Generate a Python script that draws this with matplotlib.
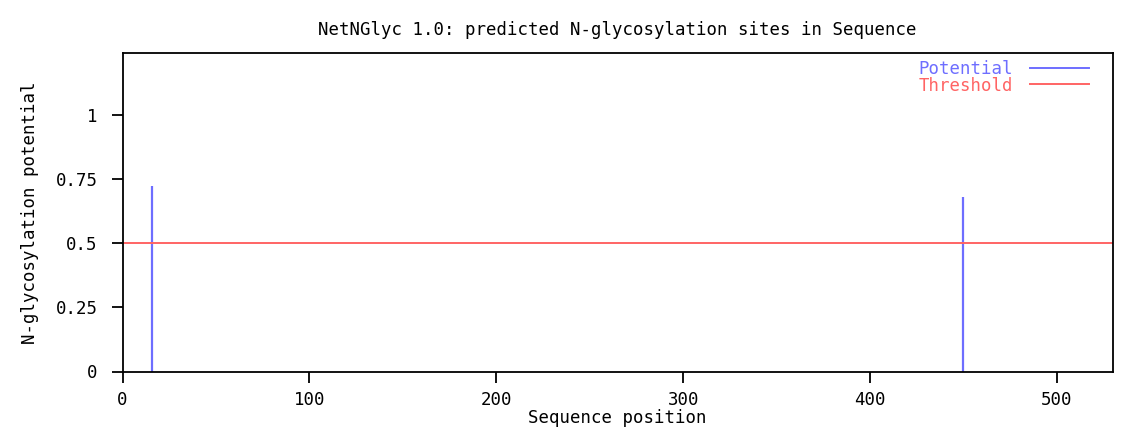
import matplotlib
matplotlib.use("Agg")
import matplotlib.pyplot as plt
from matplotlib.lines import Line2D

# Data
site_positions = [16, 450]
site_potentials = [0.723, 0.681]
threshold = 0.5
x_ticks = [0, 100, 200, 300, 400, 500]
y_ticks = [0, 0.25, 0.5, 0.75, 1]
y_tick_labels = ["0", "0.25", "0.5", "0.75", "1"]

blue = "#6e6eff"
red = "#ff6464"
font = "DejaVu Sans Mono"
fs = 12.5

fig = plt.figure(figsize=(11.4, 4.28), dpi=100)
ax = fig.add_axes([122.5 / 1140, 1 - 371.5 / 428, (1113 - 122.5) / 1140, (371.5 - 53) / 428])

ax.vlines(site_positions, 0, site_potentials, color=blue, lw=1.6)
ax.axhline(threshold, color=red, lw=1.4)

ax.set_xlim(0, 530)
ax.set_ylim(0, 1.242)
ax.set_xticks(x_ticks)
ax.set_xticklabels([str(t) for t in x_ticks], fontfamily=font, fontsize=fs)
ax.set_yticks(y_ticks)
ax.set_yticklabels(y_tick_labels, fontfamily=font, fontsize=fs)
ax.tick_params(direction="out", length=8, width=1.3)
ax.tick_params(axis="x", pad=6)
ax.tick_params(axis="y", pad=10)
for s in ax.spines.values():
    s.set_linewidth(1.3)

ax.set_xlabel("Sequence position", fontfamily=font, fontsize=fs, va="center")
ax.xaxis.set_label_coords(0.5, (371.5 - 418) / 318.5)
ax.set_ylabel("N-glycosylation potential", fontfamily=font, fontsize=fs, va="center")
ax.yaxis.set_label_coords((30 - 122.5) / 990.5, 0.5)
ax.set_title("NetNGlyc 1.0: predicted N-glycosylation sites in Sequence",
             fontfamily=font, fontsize=fs, pad=13)

handles = [Line2D([], [], color=blue, lw=1.4), Line2D([], [], color=red, lw=1.4)]
leg = ax.legend(handles, ["Potential", "Threshold"], loc="upper right",
                bbox_to_anchor=(1 - 17 / 990.5, 1 + 0 / 318.5),
                markerfirst=False, frameon=False, handlelength=3.4,
                prop={"family": font, "size": fs}, labelspacing=-0.08,
                borderaxespad=0.0, handletextpad=1.0)
for t, c in zip(leg.get_texts(), [blue, red]):
    t.set_color(c)

fig.savefig("out.png", dpi=100)
